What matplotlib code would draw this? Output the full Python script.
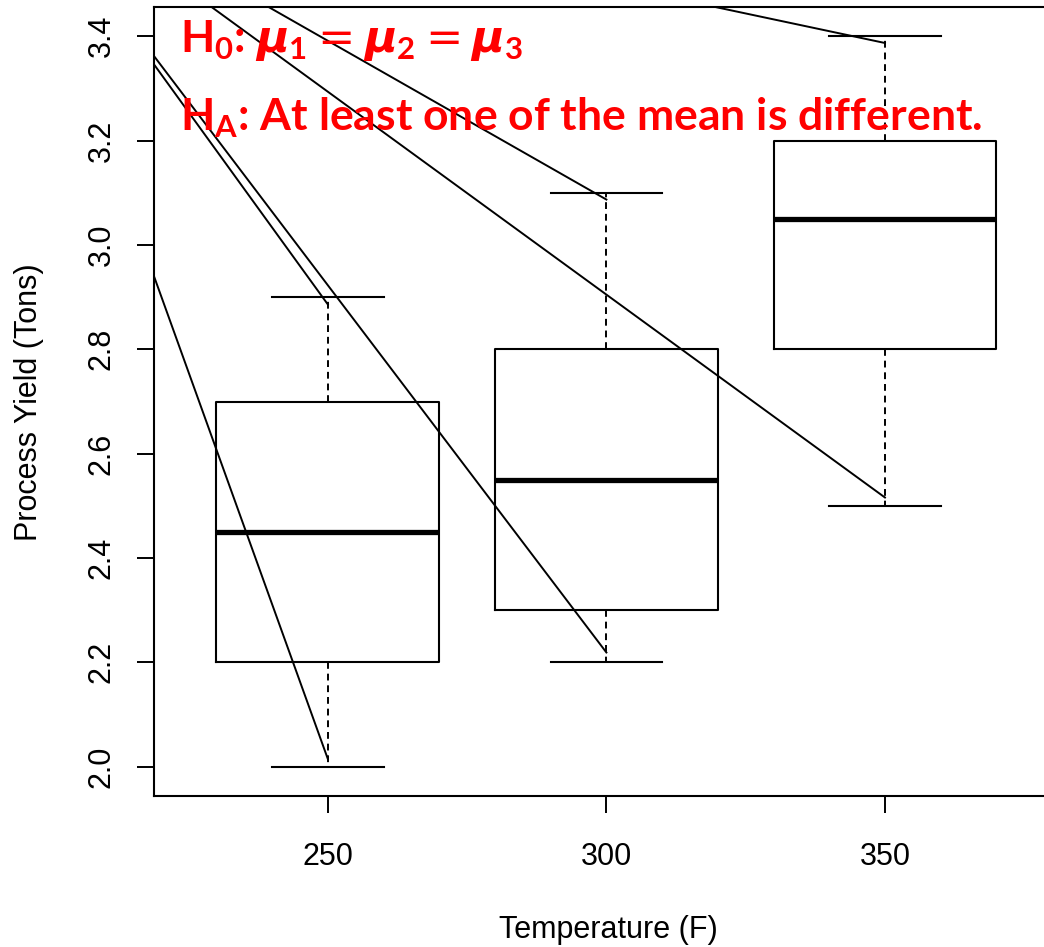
import matplotlib
matplotlib.use("Agg")
import matplotlib.pyplot as plt

# ---- data ----
temps = [250, 300, 350]
q1 = [2.2, 2.3, 2.8]
medians = [2.45, 2.55, 3.05]
q3 = [2.7, 2.8, 3.2]
whis_lo = [2.0, 2.2, 2.5]
whis_hi = [2.9, 3.1, 3.4]
ytick_vals = [2.0, 2.2, 2.4, 2.6, 2.8, 3.0, 3.2, 3.4]

# annotation segments (data coordinates, clipped by the axes)
seg_x0 = [218.8, 218.8, 218.8, 239.2, 229.0, 319.1]
seg_y0 = [2.940, 3.346, 3.362, 3.457, 3.457, 3.457]
seg_x1 = [250, 250, 300, 300, 350, 350]
seg_y1 = [2.015, 2.886, 2.219, 3.087, 2.516, 3.387]

h0_text = r"H$_{\mathbf{0}}$: $\mu_{\mathbf{1}} = \mu_{\mathbf{2}} = \mu_{\mathbf{3}}$"
ha_text = r"H$_{\mathbf{A}}$: At least one of the mean is different."
xlabel = "Temperature (F)"
ylabel = "Process Yield (Tons)"

plt.rcParams["font.family"] = ["Liberation Sans", "DejaVu Sans"]
plt.rcParams["mathtext.fontset"] = "custom"
plt.rcParams["mathtext.rm"] = "DejaVu Sans"
plt.rcParams["mathtext.bf"] = "Lato:bold"
plt.rcParams["mathtext.it"] = "DejaVu Sans:italic:bold"

W, H = 1044, 947
fig = plt.figure(figsize=(W / 100, H / 100), dpi=100)
ax = fig.add_axes([154 / W, (H - 796) / H, 904.8 / W, 789 / H])

stats = [dict(med=m, q1=a, q3=b, whislo=lo, whishi=hi, fliers=[])
         for m, a, b, lo, hi in zip(medians, q1, q3, whis_lo, whis_hi)]
ax.bxp(stats, positions=temps, widths=40, capwidths=20, showfliers=False,
       manage_ticks=False,
       boxprops=dict(color="black", linewidth=1.5),
       medianprops=dict(color="black", linewidth=3.8, solid_capstyle="butt"),
       whiskerprops=dict(color="black", linewidth=1.4, linestyle=(0, (3.5, 2.5))),
       capprops=dict(color="black", linewidth=1.5))

for x0, y0, x1, y1 in zip(seg_x0, seg_y0, seg_x1, seg_y1):
    ax.plot([x0, x1], [y0, y1], color="black", linewidth=1.4, zorder=5)

ax.set_xlim(218.8, 381.2)
ax.set_ylim(1.944, 3.456)
ax.set_xticks(temps)
ax.set_xticklabels([str(t) for t in temps])
ax.set_yticks(ytick_vals)
ax.set_yticklabels([f"{v:.1f}" for v in ytick_vals])
ax.tick_params(axis="both", direction="out", length=12.5, width=1.4,
               labelsize=22)
ax.tick_params(axis="x", pad=20.3)
ax.tick_params(axis="y", pad=14.2, labelrotation=90)
for lab in ax.get_yticklabels():
    lab.set_verticalalignment("center")
for s in ax.spines.values():
    s.set_linewidth(1.5)

fig.text(608 / W, 1 - 930 / H, xlabel, fontsize=22, ha="center", va="center")
fig.text(29 / W, 1 - 402 / H, ylabel, fontsize=22, ha="center", va="center",
         rotation=90)

fig.text(180 / W, 1 - 52 / H, h0_text, color="red", fontsize=32,
         family="Lato", weight="bold", ha="left", va="baseline", zorder=1)
fig.text(180 / W, 1 - 131 / H, ha_text, color="red", fontsize=32,
         family="Lato", weight="bold", ha="left", va="baseline", zorder=1)

fig.savefig("out.png", dpi=100)
